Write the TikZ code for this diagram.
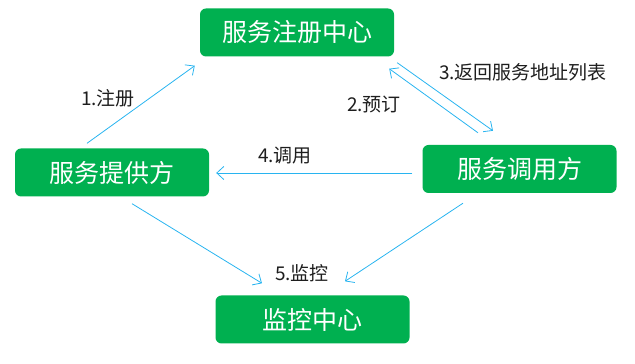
\documentclass[tikz,border=0pt]{standalone}
\usepackage{fontspec}
\setmainfont{Noto Sans CJK SC}
\usetikzlibrary{arrows.meta,positioning}
\definecolor{boxgreen}{RGB}{0,176,80}
\definecolor{linkblue}{RGB}{40,180,240}
\definecolor{msgtext}{RGB}{30,30,30}
\tikzset{
  service/.style={
    shape = rectangle,
    rounded corners = 6pt,
    fill = boxgreen,
    text = white,
    minimum width = 194pt,
    minimum height = 48pt,
    inner sep = 0pt,
    font = \fontsize{25}{30}\selectfont
  },
  msg/.style={
    text = msgtext,
    inner sep = 1pt,
    font = \fontsize{19}{23}\selectfont
  },
  link/.style={
    draw = linkblue,
    line width = 0.8pt,
    -{Straight Barb[length=7pt,width=13pt,line width=0.8pt]}
  }
}
\begin{document}
\begin{tikzpicture}[x=1pt,y=1pt]
  \useasboundingbox (0,0) rectangle (635,364);

  % services
  \node[service] (reg)  at (297,331.5) {服务注册中心};
  \node[service] (prov) at (112,191.5) {服务提供方};
  \node[service] (cons) at (519.5,195) {服务调用方};
  \node[service] (mon)  at (312.5,44.5) {监控中心};

  % links
  \draw[link] ([xshift=-25pt,yshift=5pt]prov.north) -- ([xshift=-5pt,yshift=-9pt]reg.south west);
  \draw[link] ([xshift=-41.5pt,yshift=12pt]cons.north) -- ([xshift=-5pt,yshift=-12pt]reg.south east);
  \draw[link] ([xshift=3pt,yshift=-6pt]reg.south east) -- ([xshift=-26.5pt,yshift=14pt]cons.north);
  \draw[link] ([xshift=-10pt,yshift=-4pt]cons.west) -- ([xshift=7pt,yshift=-0.5pt]prov.east);
  \draw[link] ([xshift=20pt,yshift=-7pt]prov.south) -- ([xshift=-50.5pt,yshift=12pt]mon.north);
  \draw[link] ([xshift=-56.5pt,yshift=-10pt]cons.south) -- ([xshift=32.5pt,yshift=14pt]mon.north);

  % labels
  \node[msg] (m1) at (108,266) {1.注册};
  \node[msg] (m2) at (374,260) {2.预订};
  \node[msg] (m3) at (523,292) {3.返回服务地址列表};
  \node[msg] (m4) at (285,208) {4.调用};
  \node[msg] (m5) at (302,91) {5.监控};
\end{tikzpicture}
\end{document}
